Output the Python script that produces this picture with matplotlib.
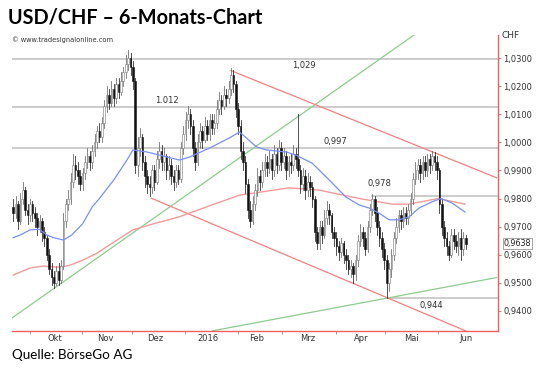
import matplotlib
matplotlib.use('Agg')
import matplotlib.pyplot as plt
from matplotlib.patches import Rectangle

# daily candles, open = previous close
first_open = 0.977
close = [0.975, 0.978, 0.972, 0.980, 0.983, 0.976, 0.974, 0.978, 0.975, 0.973,
         0.970, 0.972, 0.968, 0.966, 0.960, 0.955, 0.952, 0.950, 0.954, 0.951,
         0.956, 0.972, 0.978, 0.980, 0.986, 0.992, 0.990, 0.988, 0.985, 0.989,
         0.993, 0.995, 0.993, 0.997, 1.000, 1.004, 1.002, 1.007, 1.013, 1.017,
         1.014, 1.019, 1.016, 1.021, 1.018, 1.022, 1.025, 1.028, 1.030, 1.027,
         1.022, 0.992, 0.998, 1.002, 0.993, 0.988, 0.985, 0.984, 0.990, 0.986,
         0.994, 0.997, 0.993, 0.995, 0.990, 0.992, 0.988, 0.986, 0.990, 0.987,
         0.998, 1.003, 1.008, 1.010, 1.006, 0.998, 0.993, 1.000, 1.004, 1.001,
         1.006, 1.003, 1.008, 1.005, 1.007, 1.012, 1.015, 1.013, 1.017, 1.016,
         1.019, 1.024, 1.021, 1.012, 1.006, 0.997, 0.993, 0.985, 0.976, 0.972,
         0.978, 0.983, 0.988, 0.986, 0.990, 0.993, 0.991, 0.994, 0.990, 0.996,
         0.992, 0.998, 0.993, 0.995, 0.990, 0.993, 0.992, 0.996, 0.994, 0.990,
         0.985, 0.988, 0.983, 0.986, 0.984, 0.980, 0.968, 0.964, 0.970, 0.967,
         0.973, 0.976, 0.974, 0.968, 0.966, 0.963, 0.961, 0.964, 0.960, 0.958,
         0.955, 0.956, 0.953, 0.958, 0.965, 0.968, 0.966, 0.962, 0.970, 0.976,
         0.980, 0.975, 0.970, 0.966, 0.962, 0.958, 0.950, 0.955, 0.960, 0.966,
         0.970, 0.974, 0.972, 0.975, 0.973, 0.976, 0.980, 0.987, 0.990, 0.992,
         0.989, 0.993, 0.990, 0.994, 0.992, 0.995, 0.993, 0.990, 0.978, 0.970,
         0.966, 0.963, 0.960, 0.967, 0.965, 0.963, 0.966, 0.962, 0.966, 0.9638]
high = [0.980, 0.981, 0.979, 0.982, 0.986, 0.984, 0.978, 0.980, 0.979, 0.977,
        0.975, 0.974, 0.973, 0.970, 0.967, 0.962, 0.957, 0.954, 0.956, 0.957,
        0.958, 0.975, 0.980, 0.983, 0.989, 0.996, 0.995, 0.993, 0.990, 0.991,
        0.995, 0.998, 0.997, 0.999, 1.003, 1.006, 1.007, 1.009, 1.015, 1.020,
        1.019, 1.022, 1.021, 1.023, 1.023, 1.025, 1.027, 1.031, 1.033, 1.032,
        1.029, 1.023, 1.002, 1.005, 1.003, 0.995, 0.990, 0.988, 0.992, 0.992,
        0.997, 1.000, 0.999, 0.998, 0.996, 0.995, 0.994, 0.990, 0.992, 0.992,
        1.000, 1.006, 1.011, 1.013, 1.012, 1.008, 1.000, 1.003, 1.007, 1.006,
        1.009, 1.008, 1.010, 1.010, 1.010, 1.015, 1.018, 1.017, 1.020, 1.019,
        1.022, 1.0265, 1.026, 1.022, 1.014, 1.008, 1.000, 0.995, 0.987, 0.979,
        0.981, 0.985, 0.991, 0.990, 0.993, 0.996, 0.995, 0.997, 0.996, 0.999,
        0.998, 1.001, 1.000, 0.998, 0.997, 0.995, 0.996, 0.999, 0.998, 1.010,
        0.992, 0.991, 0.990, 0.989, 0.988, 0.986, 0.981, 0.970, 0.972, 0.972,
        0.976, 0.979, 0.978, 0.975, 0.970, 0.968, 0.965, 0.966, 0.965, 0.962,
        0.960, 0.958, 0.957, 0.960, 0.967, 0.971, 0.970, 0.968, 0.972, 0.978,
        0.9815, 0.981, 0.977, 0.972, 0.968, 0.964, 0.960, 0.957, 0.962, 0.968,
        0.973, 0.976, 0.976, 0.977, 0.977, 0.978, 0.982, 0.989, 0.993, 0.994,
        0.994, 0.995, 0.995, 0.996, 0.996, 0.997, 0.9965, 0.995, 0.991, 0.980,
        0.972, 0.968, 0.965, 0.969, 0.969, 0.967, 0.968, 0.969, 0.968, 0.967]
low = [0.972, 0.973, 0.969, 0.971, 0.978, 0.974, 0.971, 0.972, 0.972, 0.970,
       0.967, 0.968, 0.965, 0.963, 0.958, 0.953, 0.949, 0.948, 0.949, 0.949,
       0.950, 0.955, 0.970, 0.976, 0.978, 0.984, 0.987, 0.985, 0.983, 0.983,
       0.987, 0.991, 0.990, 0.991, 0.995, 0.998, 1.000, 1.000, 1.005, 1.011,
       1.012, 1.013, 1.013, 1.014, 1.016, 1.017, 1.020, 1.023, 1.026, 1.024,
       1.019, 0.989, 0.988, 0.995, 0.990, 0.984, 0.982, 0.981, 0.982, 0.983,
       0.985, 0.991, 0.990, 0.990, 0.987, 0.987, 0.985, 0.983, 0.984, 0.985,
       0.986, 0.996, 1.001, 1.005, 1.003, 0.995, 0.990, 0.992, 0.998, 0.998,
       1.000, 1.001, 1.001, 1.003, 1.003, 1.005, 1.010, 1.010, 1.012, 1.013,
       1.014, 1.017, 1.018, 1.009, 1.003, 0.994, 0.990, 0.982, 0.973, 0.970,
       0.971, 0.976, 0.981, 0.983, 0.984, 0.988, 0.988, 0.989, 0.987, 0.988,
       0.989, 0.990, 0.990, 0.991, 0.987, 0.988, 0.989, 0.990, 0.991, 0.988,
       0.982, 0.983, 0.980, 0.981, 0.981, 0.977, 0.965, 0.962, 0.962, 0.964,
       0.966, 0.971, 0.971, 0.966, 0.963, 0.960, 0.958, 0.959, 0.957, 0.955,
       0.953, 0.952, 0.950, 0.951, 0.956, 0.963, 0.963, 0.960, 0.961, 0.968,
       0.974, 0.972, 0.967, 0.963, 0.959, 0.955, 0.9445, 0.947, 0.952, 0.958,
       0.964, 0.968, 0.969, 0.970, 0.971, 0.971, 0.974, 0.978, 0.985, 0.987,
       0.986, 0.987, 0.988, 0.988, 0.989, 0.990, 0.990, 0.987, 0.975, 0.967,
       0.963, 0.960, 0.958, 0.959, 0.962, 0.961, 0.960, 0.958, 0.960, 0.962]

# moving averages, read at sample positions (candle index)
ma50_idx = [0, 3, 7, 11, 14, 17, 21, 24.5, 29, 33, 36, 42, 47.5, 50, 55.8, 61,
            69.5, 73.7, 83, 90.3, 94.5, 97.4, 101.6, 105.8, 114, 118, 124.9,
            132, 139, 144.5, 148.7, 152.8, 157, 161, 165.3, 169.5, 174.9,
            178.7, 183.3, 188.7]
ma50_val = [0.966, 0.967, 0.9688, 0.969, 0.967, 0.966, 0.9652, 0.967, 0.971,
            0.977, 0.980, 0.9866, 0.9937, 0.9973, 0.9966, 0.9955, 0.9937,
            0.9948, 0.9984, 1.0016, 1.0037, 1.0016, 0.9984, 0.9973, 0.9966,
            0.9955, 0.9926, 0.9866, 0.9805, 0.9777, 0.9766, 0.9748, 0.9724,
            0.9724, 0.9734, 0.9766, 0.9788, 0.980, 0.9784, 0.9752]
ma200_idx = [0, 7, 12.4, 19.5, 23.7, 29, 35, 40.3, 50, 57, 69.5, 80.7, 94.5,
             115.3, 127.8, 144.5, 158.3, 165.3, 177.5, 188.7]
ma200_val = [0.9527, 0.9552, 0.9559, 0.9555, 0.9562, 0.958, 0.9605, 0.9635,
             0.9688, 0.9706, 0.9735, 0.977, 0.9812, 0.9838, 0.983, 0.980,
             0.978, 0.978, 0.980, 0.978]

# trend lines (start index, start value, end index, end value)
green_up = (-0.5, 0.9374, 167.4, 1.0383)
green_low = (83.2, 0.9328, 201.9, 0.9518)
red_up = (91.0, 1.0256, 201.9, 0.9874)
red_low = (57.7, 0.9801, 189.0, 0.9328)

# horizontal levels: value, start index, label, label index, label value
levels = [(1.0296, -0.5, '1,029', 121.6, 1.0273),
          (1.0127, -0.5, '1.012', 64.0, 1.0151),
          (0.9979, -0.5, '0,997', 134.5, 1.0002),
          (0.9809, 150.0, '0,978', 152.8, 0.9852),
          (0.9445, 156.0, '0,944', 174.5, 0.9420)]

yticks = [0.94, 0.95, 0.96, 0.97, 0.98, 0.99, 1.00, 1.01, 1.02, 1.03]
month_bounds = [7, 28.7, 49.5, 71.6, 93.7, 112.4, 135, 155.3, 177.4]
month_pos = [17.4, 38.3, 59.5, 81.2, 101.6, 122.8, 145.3, 166.2, 189.1]
month_labels = ['Okt', 'Nov', 'Dez', '2016', 'Feb', 'Mrz', 'Apr', 'Mai', 'Jun']
last_price = 0.9638

fig = plt.figure(figsize=(5.4, 3.71), dpi=100)
ax = fig.add_axes([12 / 540, 40 / 371, 486 / 540, 296 / 371])
ax.set_xlim(-0.5, 202.5)
ax.set_ylim(0.93275, 1.03831)

lvl_color = '#c4c4c4'
for val, start, lab, lx, ly in levels:
    ax.plot([start, 202.5], [val, val], color=lvl_color, lw=1.2, zorder=1)
    ax.text(lx, ly, lab, fontsize=6, color='#333333', ha='center', va='center')

for (x0, y0, x1, y1), col in [(green_up, '#8dcc8d'), (green_low, '#8dcc8d'),
                              (red_up, '#f28080'), (red_low, '#f28080')]:
    ax.plot([x0, x1], [y0, y1], color=col, lw=0.9, zorder=2)

ax.plot(ma200_idx, ma200_val, color='#f49a9a', lw=1.0, zorder=2)
ax.plot(ma50_idx, ma50_val, color='#7890f0', lw=0.9, zorder=4)

# candles
opens = [first_open] + close[:-1]
for i, (o, h, l, c) in enumerate(zip(opens, high, low, close)):
    up = c >= o
    ax.plot([i, i], [l, h], color='#666666' if up else '#222222', lw=0.55, zorder=3)
    bottom = min(o, c)
    height = max(abs(c - o), 0.0004)
    ax.add_patch(Rectangle((i - 0.35, bottom), 0.7, height,
                           facecolor='white' if up else '#111111',
                           edgecolor='#777777' if up else '#111111',
                           lw=0.4, zorder=3))

for s in ['top', 'left']:
    ax.spines[s].set_visible(False)
ax.spines['right'].set_color('#f06060')
ax.spines['bottom'].set_color('#f06060')
ax.spines['right'].set_linewidth(1.0)
ax.spines['bottom'].set_linewidth(1.0)

ax.yaxis.tick_right()
ax.set_yticks(yticks)
ax.set_yticklabels([f'{v:.4f}'.replace('.', ',') for v in yticks])
ax.tick_params(axis='y', length=2, width=0.6, color='#f06060', pad=2,
               labelsize=6, labelcolor='#333333')
ax.set_xticks(month_bounds)
ax.set_xticklabels([])
ax.tick_params(axis='x', length=2, width=0.6, color='#888888')
for p, lab in zip(month_pos, month_labels):
    ax.text(p, -0.025, lab, transform=ax.get_xaxis_transform(), fontsize=6,
            ha='center', va='center', color='#333333')

ax.text(1.008, 1.0, 'CHF', transform=ax.transAxes, fontsize=6.5, ha='left',
        va='center', color='#333333')
ax.text(1.012, last_price, f'{last_price:.4f}'.replace('.', ','),
        transform=ax.get_yaxis_transform(), fontsize=5.8, ha='left', va='center',
        color='#222222',
        bbox=dict(boxstyle='square,pad=0.12', facecolor='white',
                  edgecolor='#999999', lw=0.6))

fig.text(8 / 540, 1 - 17 / 371, 'USD/CHF – 6-Monats-Chart', fontsize=14.3,
         fontweight='bold', family='Lato', va='center', ha='left')
fig.text(12 / 540, 1 - 40 / 371, '© www.tradesignalonline.com', fontsize=4.8,
         va='center', ha='left', color='#333333')
fig.text(12 / 540, 1 - 355 / 371, 'Quelle: BörseGo AG', fontsize=9.7,
         family='Lato', va='center', ha='left')

fig.savefig('out.png', dpi=100)
